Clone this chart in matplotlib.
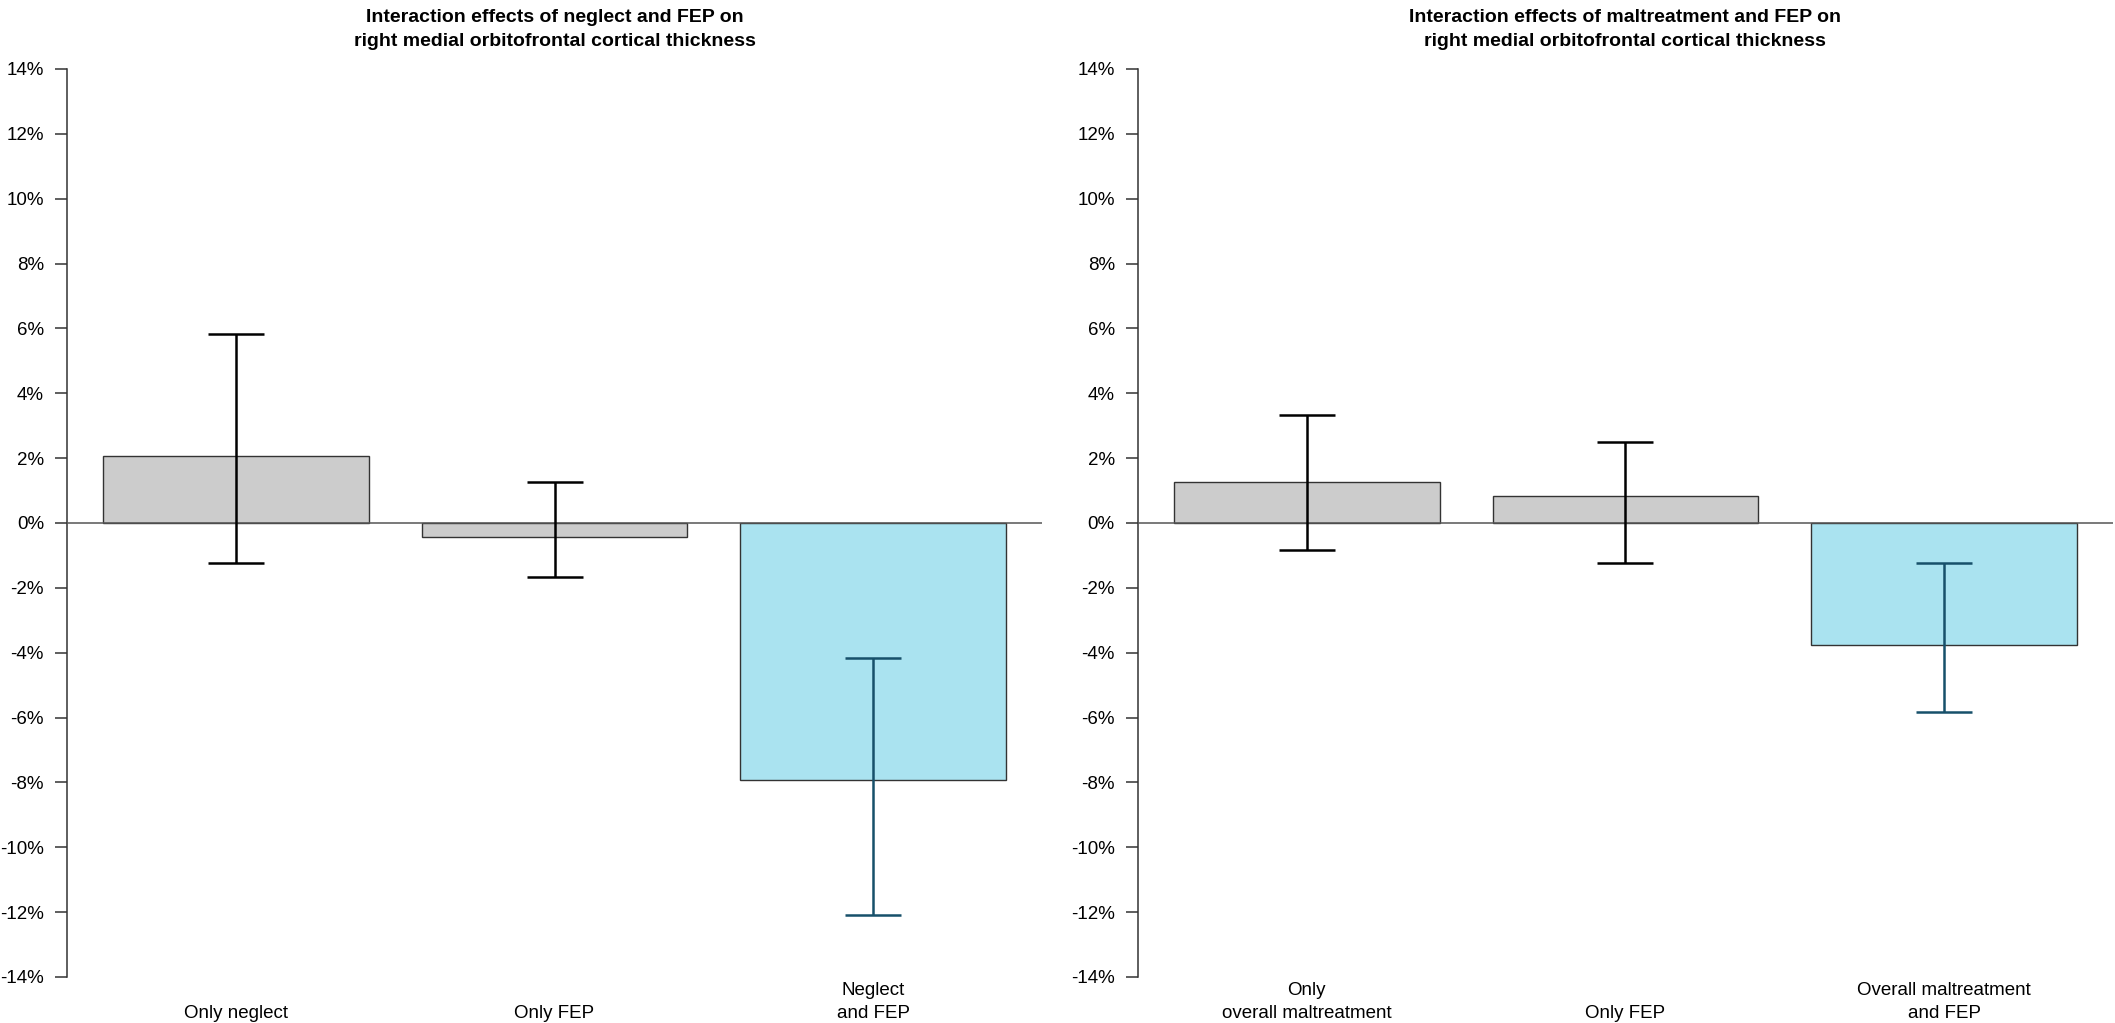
import matplotlib
matplotlib.use("Agg")
import matplotlib.pyplot as plt

plt.rcParams['font.family'] = ['Liberation Sans', 'DejaVu Sans']

# values in percent
neglect_labels = ["Only neglect", "Only FEP", "Neglect\nand FEP"]
neglect_values = [2.08, -0.42, -7.92]
neglect_upper = [5.83, 1.25, -4.17]
neglect_lower = [-1.25, -1.67, -12.08]

maltreat_labels = ["Only\noverall maltreatment", "Only FEP", "Overall maltreatment\nand FEP"]
maltreat_values = [1.25, 0.83, -3.75]
maltreat_upper = [3.33, 2.50, -1.25]
maltreat_lower = [-0.83, -1.25, -5.83]

titles = ["Interaction effects of neglect and FEP on\nright medial orbitofrontal cortical thickness",
          "Interaction effects of maltreatment and FEP on\nright medial orbitofrontal cortical thickness"]

yticks = list(range(-14, 15, 2))
bar_colors = ["#cccccc", "#cccccc", "#aae3f0"]
err_colors = ["black", "black", "#17506a"]

fig = plt.figure(figsize=(21.15, 10.23), dpi=100)
ax1 = fig.add_axes([0.0317, 0.045, 0.461, 0.8876])
ax2 = fig.add_axes([0.538, 0.045, 0.461, 0.8876])


def draw_panel(ax, labels, values, upper, lower, title):
    xs = [0.7, 1.9, 3.1]
    ax.bar(xs, values, width=1.0, color=bar_colors, edgecolor="#333333", linewidth=1.0, zorder=2)
    ax.axhline(0, color="#555555", linewidth=1.1, zorder=3)
    for x, v, u, l, c in zip(xs, values, upper, lower, err_colors):
        ax.errorbar([x], [v], yerr=[[v - l], [u - v]], fmt="none", ecolor=c,
                    elinewidth=1.8, capsize=20, capthick=1.8, zorder=4)
    ax.set_xlim(0.064, 3.736)
    ax.set_ylim(-14, 14)
    for s in ["top", "right", "bottom"]:
        ax.spines[s].set_visible(False)
    ax.spines["left"].set_color("#333333")
    ax.spines["left"].set_linewidth(1.1)
    ax.set_xticks([])
    ax.set_yticks(yticks)
    ax.set_yticklabels([f"{t}%" for t in yticks])
    ax.tick_params(axis="y", length=8.6, width=1.1, pad=8, labelsize=13.5, color="#333333")
    for x, lab in zip(xs, labels):
        ax.annotate(lab, xy=(x, 0), xycoords=("data", "axes fraction"),
                    xytext=(0, -45), textcoords="offset pixels",
                    ha="center", va="bottom", fontsize=13.5, linespacing=1.44)
    ax.annotate(title, xy=(0.5, 1), xycoords="axes fraction",
                xytext=(0, 19), textcoords="offset pixels",
                ha="center", va="bottom", fontsize=14, fontweight="bold", linespacing=1.55)


draw_panel(ax1, neglect_labels, neglect_values, neglect_upper, neglect_lower, titles[0])
draw_panel(ax2, maltreat_labels, maltreat_values, maltreat_upper, maltreat_lower, titles[1])

fig.savefig("out.png", dpi=100)
